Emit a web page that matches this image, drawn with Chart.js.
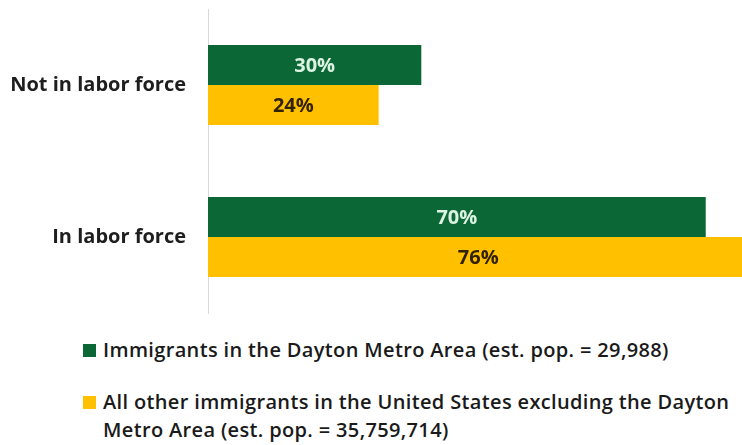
<!DOCTYPE html>
<html>
<head>
<meta charset="utf-8">
<script src="https://cdn.jsdelivr.net/npm/chart.js@4"></script>
<style>
  html, body { margin:0; padding:0; background:#fff; overflow:hidden; }
  #wrap { position:relative; width:742px; height:445px; }
  #c { position:absolute; left:0; top:0; }
  #legend { position:absolute; left:83px; top:336px; width:659px; font-family:"Open Sans", Lato, sans-serif; font-size:20px; font-weight:600; letter-spacing:0.35px; color:#1a1a1a; }
  .item { display:flex; align-items:flex-start; line-height:28px; margin-bottom:24px; }
  .sw { width:13px; height:13px; flex:none; margin-top:8px; margin-right:7px; }
</style>
</head>
<body>
<div id="wrap">
  <canvas id="c" width="742" height="320"></canvas>
  <div id="legend"></div>
</div>
<script>
const categories = ['Not in labor force', 'In labor force'];
const seriesNames = [
  'Immigrants in the Dayton Metro Area (est. pop. = 29,988)',
  'All other immigrants in the United States excluding the Dayton Metro Area (est. pop. = 35,759,714)'
];
const daytonValues = [30, 70];
const otherValues = [24, 76];
const colors = ['#0b6836', '#ffc000'];
const labelColors = ['#dcf2e2', '#332200'];

// value labels centred on the full bar length
const barLabels = {
  id: 'barLabels',
  afterDatasetsDraw(chart) {
    const ctx = chart.ctx;
    const xs = chart.scales.x;
    ctx.save();
    ctx.font = 'bold 20px "Open Sans", Lato, sans-serif';
    ctx.textAlign = 'center';
    ctx.textBaseline = 'middle';
    chart.data.datasets.forEach((ds, i) => {
      chart.getDatasetMeta(i).data.forEach((bar, j) => {
        ctx.fillStyle = labelColors[i];
        ctx.fillText(ds.data[j] + '%', xs.getPixelForValue(ds.data[j] / 2), bar.y + 1);
      });
    });
    ctx.restore();
  }
};

const chart = new Chart(document.getElementById('c'), {
  type: 'bar',
  data: {
    labels: categories,
    datasets: [
      { label: seriesNames[0], data: daytonValues, backgroundColor: colors[0] },
      { label: seriesNames[1], data: otherValues, backgroundColor: colors[1] }
    ]
  },
  options: {
    indexAxis: 'y',
    responsive: false,
    animation: false,
    layout: { padding: { top: 9, bottom: 7, right: 0, left: 0 } },
    categoryPercentage: 0.526,
    barPercentage: 1,
    scales: {
      x: { display: false, min: 0, max: 75.1 },
      y: {
        afterFit(axis) {
          axis.width = 208;
          axis.paddingTop = 0;
          axis.paddingBottom = 0;
        },
        grid: { display: false, drawTicks: false },
        border: { color: '#d9d9d9', width: 1 },
        ticks: {
          color: '#1e1e1e',
          padding: 22,
          font: { family: '"Open Sans", Lato, sans-serif', size: 20, weight: 'bold' }
        }
      }
    },
    plugins: { legend: { display: false }, tooltip: { enabled: false } }
  },
  plugins: [barLabels]
});

// legend built from the chart's datasets
const legend = document.getElementById('legend');
chart.data.datasets.forEach(ds => {
  const row = document.createElement('div');
  row.className = 'item';
  const sw = document.createElement('span');
  sw.className = 'sw';
  sw.style.background = ds.backgroundColor;
  const tx = document.createElement('span');
  tx.textContent = ds.label;
  row.appendChild(sw);
  row.appendChild(tx);
  legend.appendChild(row);
});
</script>
</body>
</html>
